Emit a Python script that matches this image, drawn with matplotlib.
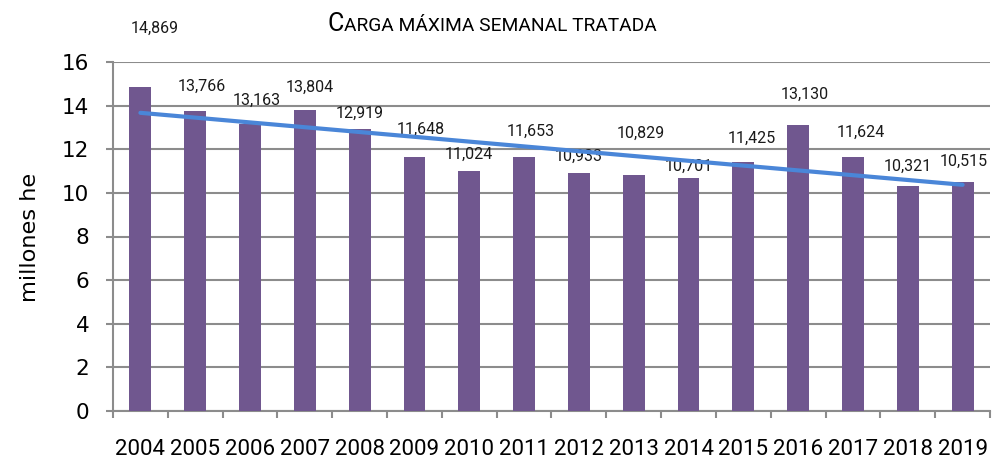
import numpy as np
import matplotlib.pyplot as plt
from matplotlib.ticker import MultipleLocator

years = ["2004", "2005", "2006", "2007", "2008", "2009", "2010", "2011",
         "2012", "2013", "2014", "2015", "2016", "2017", "2018", "2019"]
carga = [14.869, 13.766, 13.163, 13.804, 12.919, 11.648, 11.024, 11.653,
         10.933, 10.829, 10.701, 11.425, 13.130, 11.624, 10.321, 10.515]
labels = ["14,869", "13,766", "13,163", "13,804", "12,919", "11,648", "11,024", "11,653",
          "10,933", "10,829", "10,701", "11,425", "13,130", "11,624", "10,321", "10,515"]

# label offsets in pixels (x, y) relative to bar top, as Excel placed them
lab_dx = [14, 7, 7, 5, 0, 6, 0, 7, 0, 7, 0, 8, 7, 8, 0, 1]
lab_dy = [58, 24, 24, 23, 16, 28, 16, 25, 16, 41, 11, 23, 30, 25, 20, 20]

plt.rcParams['font.family'] = ['Roboto', 'DejaVu Sans']

fig = plt.figure(figsize=(9.95, 4.59), dpi=100)
ax = fig.add_axes([113/995, 48/459, 877/995, 349/459])

x = np.arange(len(years))
ax.bar(x, carga, width=0.4, color='#70578F', zorder=3)

# linear trend line (Excel-style)
k, b = np.polyfit(x, carga, 1)
ax.plot(x, k*x + b, color='#4A86D8', lw=3, zorder=4, solid_capstyle='round')

for i in range(len(x)):
    ax.annotate(labels[i], (x[i], carga[i]), xytext=(lab_dx[i], lab_dy[i]),
                textcoords='offset pixels', ha='center', va='center',
                fontsize=11.5, color='#1a1a1a')

ax.set_xlim(-0.5, len(years) - 0.5)
ax.set_ylim(0, 16)
ax.yaxis.set_major_locator(MultipleLocator(2))
ax.grid(axis='y', color='#8C8C8C', lw=1.5, zorder=0)

ax.set_xticks(x)
ax.set_xticklabels(years, fontsize=16)
ax.set_xticks(np.arange(-0.5, len(years)), minor=True)
ax.tick_params(axis='x', which='major', length=0, pad=20)
ax.tick_params(axis='x', which='minor', length=5, width=1.5, color='#8C8C8C')
ax.tick_params(axis='y', length=5, width=1.5, color='#8C8C8C', pad=12)
for t in ax.get_yticklabels():
    t.set_fontfamily('DejaVu Sans')
    t.set_fontsize(15.5)

for s in ['top', 'right']:
    ax.spines[s].set_visible(False)
for s in ['left', 'bottom']:
    ax.spines[s].set_color('#8C8C8C')
    ax.spines[s].set_linewidth(1.5)

fig.text(30/995, 1 - 237/459, "millones he", rotation=90, ha='center', va='center',
         fontsize=16.2, family='DejaVu Sans')

# small caps title
fig.canvas.draw()
r = fig.canvas.get_renderer()
t1 = fig.text(0, 0, "C", fontsize=18, va='baseline')
t2 = fig.text(0, 0, "ARGA MÁXIMA SEMANAL TRATADA", fontsize=13.8, va='baseline')
w1 = t1.get_window_extent(r).width
w2 = t2.get_window_extent(r).width
x0 = (492 - (w1 + w2) / 2) / 995
t1.set_position((x0, 1 - 31/459))
t2.set_position((x0 + w1 / 995, 1 - 31/459))

fig.savefig("out.png", dpi=100)
